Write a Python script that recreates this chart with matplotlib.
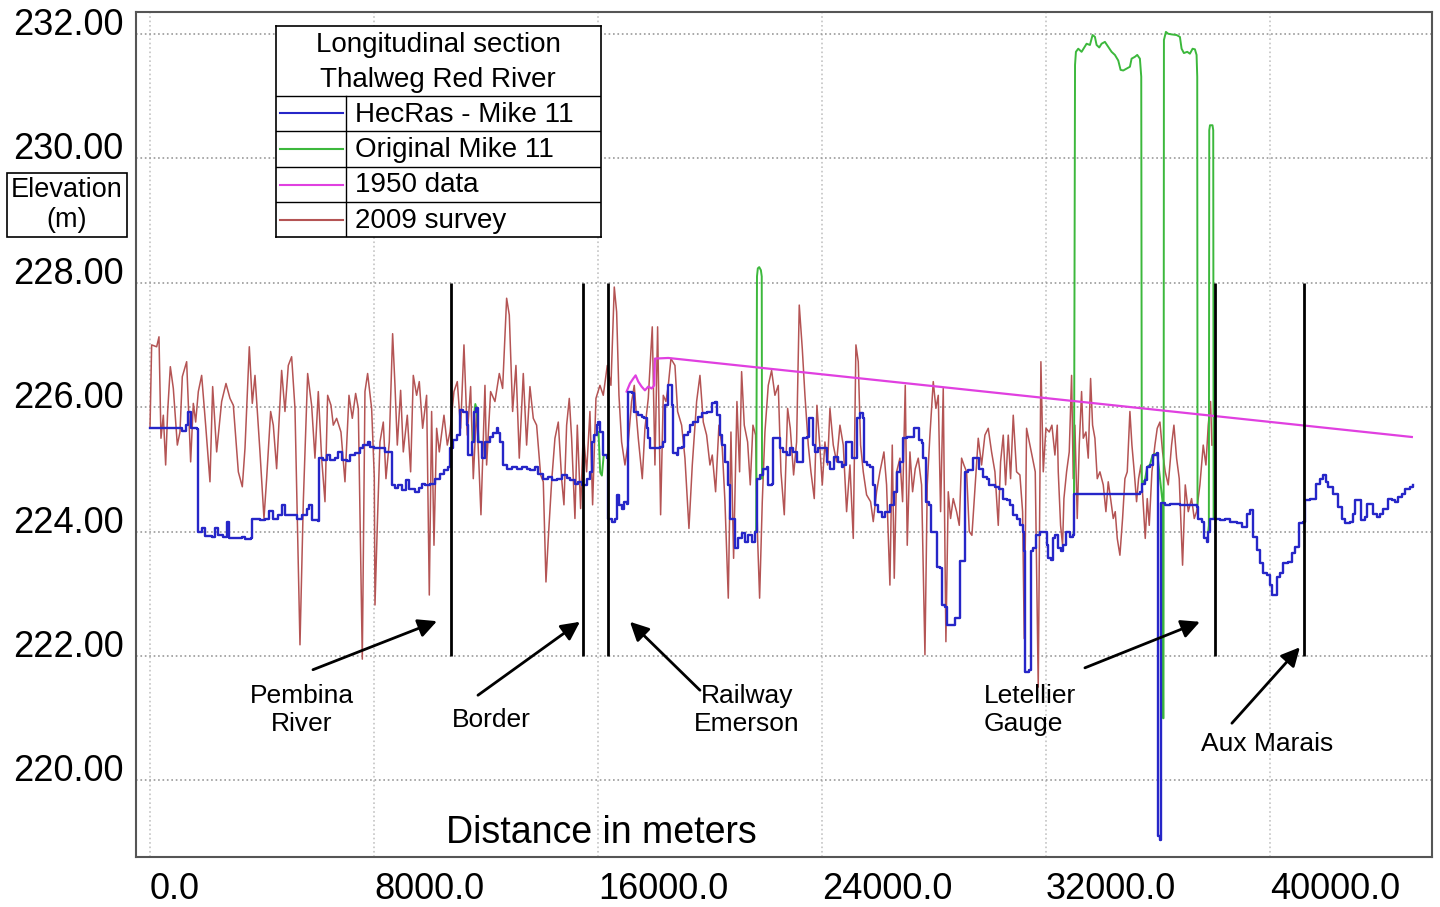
import numpy as np
import matplotlib
matplotlib.use('Agg')
import matplotlib.pyplot as plt
from matplotlib.transforms import ScaledTranslation

plt.rcParams['font.family'] = ['Liberation Sans', 'DejaVu Sans']

# 2009 survey thalweg (distance m, elevation m)
survey_dist = [
    0, 59, 238, 321, 392, 476, 559, 631, 726, 833, 976, 1071, 1154, 1309, 1452, 1547, 1631, 1726, 1845, 1988,
    2142, 2238, 2381, 2559, 2714, 2857, 2976, 3155, 3297, 3393, 3547, 3654, 3750, 3928, 4071, 4166, 4309, 4404,
    4523, 4702, 4821, 4940, 5059, 5178, 5357, 5476, 5631, 5773, 5892, 6011, 6130, 6250, 6345, 6464, 6547, 6666,
    6821, 6964, 7107, 7226, 7345, 7440, 7583, 7678, 7773, 7916, 8011,
    8036, 8119, 8214, 8333, 8428, 8547, 8666, 8750, 8833, 8952, 9047, 9190, 9309, 9404, 9523, 9618, 9738, 9880,
    9976, 10059, 10143, 10238, 10333, 10500, 10619, 10714, 10857, 10976, 11095, 11214, 11333, 11452, 11547,
    11666, 11821, 11964, 12023, 12166, 12321, 12476, 12595, 12738, 12833, 12952, 13071, 13190, 13333, 13452,
    13571, 13690, 13809, 13952, 14047, 14143, 14226, 14345, 14464, 14583, 14702, 14785, 14881, 14976, 15059,
    15178, 15262, 15381, 15476, 15595, 15714, 15809, 15928, 16071, 16190, 16333,
    16464, 16583, 16667, 16750, 16845, 16964, 17083, 17202, 17297, 17381, 17440, 17583, 17678, 17797, 17940,
    18035, 18131, 18238, 18333, 18428, 18512, 18607, 18750, 18845, 18988, 19107, 19250, 19369, 19524, 19643,
    19762, 19881, 20000, 20083, 20202, 20321, 20440, 20536, 20655, 20750, 20845, 20964, 21059, 21131, 21226,
    21345, 21440, 21536, 21631, 21702, 21774, 21869, 21964, 22083, 22202, 22321, 22440, 22536, 22655, 22774,
    22869, 22988, 23095, 23190, 23298, 23393, 23512, 23607, 23726, 23821, 23929, 24012, 24107, 24202, 24286,
    24405, 24524,
    24643, 24762, 24881, 25000, 25119, 25214, 25297, 25381, 25476, 25595, 25738, 25833, 25952, 26071, 26214,
    26309, 26428, 26512, 26583, 26667, 26786, 26881, 26976, 27047, 27143, 27238, 27333, 27440, 27559, 27679,
    27762, 27857, 27976, 28071, 28155, 28238, 28333, 28428, 28512, 28595, 28690, 28809, 28905, 28988, 29071,
    29167, 29262, 29357, 29464, 29583, 29702, 29821, 29940, 30059, 30179, 30298, 30381, 30476, 30560, 30655,
    30738, 30833, 30952, 31071, 31167, 31226, 31309, 31405, 31500, 31619, 31726, 31821, 31905, 32000, 32119,
    32214, 32321, 32405,
    32441, 32524, 32595, 32643, 32738, 32833, 32917, 32976, 33036, 33119, 33191, 33274, 33334, 33429, 33512,
    33596, 33667, 33750, 33834, 33929, 34048, 34143, 34226, 34310, 34405, 34476, 34548, 34643, 34738, 34822,
    34905, 35000, 35072, 35155, 35238, 35310, 35393, 35476, 35548, 35619, 35691, 35786, 35893, 35976, 36072,
    36167, 36262, 36369, 36488, 36572, 36667, 36762, 36881, 36977, 37084, 37203, 37298, 37381, 37500, 37619,
    37715, 37798, 37881, 37929]
survey_elev = [
    225.66, 227.0, 226.97, 227.13, 225.5, 225.87, 225.07, 225.93, 226.65, 226.3, 225.39, 225.6, 226.49, 226.73,
    225.12, 226.06, 225.76, 226.25, 226.51, 225.71, 224.8, 226.33, 225.28, 226.09, 226.38, 226.14, 226.03, 224.96,
    224.72, 225.34, 226.97, 226.06, 226.51, 225.28, 224.21, 224.85, 225.93, 225.71, 225.01, 226.59, 225.93, 226.67,
    226.81, 225.98, 222.18, 224.48, 226.54, 226.03, 225.18, 226.25, 225.18, 224.48, 226.19, 226.03, 225.71, 225.82,
    225.6, 224.8, 226.19, 225.82, 226.22, 225.98, 221.95, 226.25, 226.54, 225.98, 224.88,
    222.82, 224.1, 225.44, 225.76, 224.85, 225.44, 227.18, 226.35, 225.39, 226.27, 225.28, 225.87, 224.96, 226.51,
    226.19, 226.41, 225.66, 226.19, 222.98, 225.93, 223.78, 225.66, 225.28, 225.87, 225.39, 225.6, 226.25, 226.41,
    225.66, 227.0, 225.55, 226.33, 224.85, 225.98, 224.27, 226.35, 225.07, 226.25, 226.09, 226.54, 226.3, 227.75,
    227.48, 225.93, 226.67, 225.18, 226.54, 225.39, 226.33, 225.82, 225.71, 224.91, 224.8, 223.19, 223.89, 224.8,
    225.5, 225.76, 224.85, 224.43, 225.71, 226.14, 225.5, 224.21, 225.71, 224.37, 225.6, 224.96, 225.93, 224.43,
    226.14, 226.35, 226.19, 226.67,
    226.35, 227.93, 227.53, 226.19, 225.44, 225.07, 225.44, 226.09, 226.35, 225.82, 225.5, 224.85, 225.66, 226.14,
    227.29, 225.07, 227.29, 224.27, 226.19, 226.09, 226.35, 226.78, 226.67, 225.93, 225.71, 225.18, 224.05, 225.07,
    226.09, 226.51, 225.76, 225.55, 225.07, 225.23, 224.64, 225.71, 225.34, 224.48, 222.93, 225.6, 223.57, 226.09,
    224.96, 226.57, 225.71, 225.44, 224.75, 225.71, 225.55, 223.89, 222.93, 224.48, 225.6, 226.35, 226.59, 226.19,
    226.35, 224.96, 224.27, 225.98, 225.66, 224.91, 225.44, 227.64, 226.94, 226.19, 225.39, 224.96, 224.53, 226.03,
    225.34, 224.75, 225.44, 225.07, 225.98, 225.39, 225.12,
    225.71, 225.39, 224.32, 225.07, 223.89, 227.0, 226.73, 225.39, 224.96, 224.59, 224.48, 224.16, 224.64, 224.96,
    225.28, 224.75, 223.14, 225.39, 223.25, 224.96, 225.18, 224.48, 226.35, 223.78, 225.28, 224.64, 225.01, 225.18,
    224.75, 222.02, 224.75, 225.55, 226.41, 225.98, 226.19, 224.32, 226.3, 222.23, 224.64, 224.21, 224.53, 224.32,
    224.1, 225.18, 225.07, 224.96, 224.0, 223.94, 224.69, 225.5, 225.07, 225.55, 225.66, 225.28, 224.96, 224.1,
    225.12, 225.55, 224.75, 225.55, 224.85, 225.87, 224.96, 224.91, 224.32, 222.28, 225.66, 225.44, 225.23, 224.96,
    221.5, 226.73, 224.96, 225.66, 225.6, 225.71, 225.23, 225.71,
    224.96, 224.1, 223.78, 224.53, 224.96, 225.28, 226.51, 224.85, 225.71, 224.21, 225.39, 226.25, 225.5, 225.6,
    225.18, 226.46, 225.71, 225.5, 224.85, 224.96, 224.75, 224.32, 224.8, 224.53, 224.21, 224.32, 223.89, 223.62,
    224.21, 224.85, 224.96, 225.93, 225.39, 224.96, 224.48, 224.85, 225.07, 224.43, 223.89, 224.53, 224.1, 224.96,
    225.39, 225.66, 225.76, 225.28, 224.96, 224.75, 225.39, 225.71, 225.18, 224.85, 223.46, 224.75, 224.32, 224.53,
    224.21, 224.32, 224.75, 225.39, 225.07, 225.71, 226.09, 225.39]

# HecRas - Mike 11 thalweg
hecras_dist = [
    0, 1011, 1154, 1273, 1368, 1464, 1666, 1702, 1821, 1869, 1964, 2202, 2321, 2416, 2619, 2738, 2821, 3154, 3273,
    3392, 3606, 3630, 3928, 4107, 4250, 4404, 4583, 4702, 4821, 5059, 5237, 5416, 5595, 5678, 5773, 6011, 6035,
    6190, 6309, 6428, 6607, 6702, 6845, 7023, 7142, 7321, 7500, 7619, 7773, 7857, 8011,
    8214, 8393, 8571, 8631, 8750, 8869, 8988, 9143, 9262, 9464, 9619, 9702, 9821, 9999, 10178, 10357, 10500,
    10654, 10714, 10833, 10952, 11071, 11190, 11309, 11369, 11488, 11571, 11643, 11726, 11845, 11964, 12143,
    12262, 12381, 12440, 12500, 12595, 12738, 12917, 13095, 13274, 13452, 13571, 13750, 13869, 14047, 14226,
    14345, 14524, 14702, 14881, 15000, 15178, 15297, 15416, 15595, 15714, 15774, 15857, 15952, 16012, 16071,
    16190, 16340, 16360,
    16488, 16607, 16667, 16750, 16845, 16940, 17024, 17083, 17202, 17297, 17440, 17559, 17654, 17738, 17797,
    17857, 18035, 18214, 18333, 18393, 18488, 18571, 18631, 18690, 18809, 18869, 18988, 19083, 19202, 19286,
    19405, 19583, 19702, 19881, 20059, 20178, 20238, 20357, 20417, 20536, 20655, 20714, 20833, 20893, 21012,
    21131, 21250, 21369, 21488, 21607, 21667, 21786, 21905, 22024, 22083, 22202, 22262, 22381, 22500, 22619,
    22738, 22857, 22976, 23095, 23214, 23333, 23452, 23536, 23631, 23690, 23750, 23869, 24047, 24166, 24286,
    24440, 24583, 24702,
    24762, 24857, 24976, 25060, 25179, 25262, 25357, 25452, 25500, 25595, 25714, 25809, 25893, 26012, 26131,
    26250, 26428, 26571, 26667, 26786, 26881, 27024, 27166, 27286, 27405, 27476, 27560, 27619, 27714, 27833,
    27881, 28000, 28095, 28214, 28274, 28393, 28452, 28631, 28750, 28869, 28928, 29047, 29107, 29226, 29381,
    29524, 29619, 29738, 29881, 29976, 30179, 30333, 30476, 30595, 30714, 30833, 30976, 31071, 31167, 31226,
    31262, 31405, 31452, 31548, 31643, 31786, 31964, 32024, 32083, 32167, 32238, 32322, 32441,
    32524, 32619, 32714, 32857, 32976, 33012, 33572, 34167, 34762, 35357, 35417, 35536, 35619, 35714, 35809,
    35976, 35990, 36090, 36110, 36250, 36429, 36607, 36786, 37024, 37262, 37381, 37441, 37560, 37643, 37738,
    37798, 37857, 37976,
    38036, 38214, 38393, 38572, 38810, 38988, 39167, 39286, 39381, 39405, 39524, 39643, 39762, 39881, 40000,
    40060, 40179, 40238, 40357, 40476, 40655, 40774, 40893, 41048, 41191, 41250, 41429, 41572, 41643, 41786,
    41905, 42000, 42083, 42262, 42441, 42560, 42679, 42857, 42953, 43036, 43155, 43238, 43393, 43453, 43572,
    43667, 43810, 43929, 44048, 44226, 44345, 44464, 44584, 44703, 44822, 45000, 45095]
hecras_elev = [
    225.67, 225.66, 225.61, 225.71, 225.92, 225.66, 225.65, 224.0, 224.0, 224.06, 223.93, 223.92, 224.05, 223.94,
    223.92, 224.15, 223.9, 223.89, 223.92, 223.88, 223.89, 224.21, 224.18, 224.21, 224.33, 224.21, 224.26, 224.43,
    224.26, 224.26, 224.21, 224.26, 224.36, 224.43, 224.18, 224.17, 225.18, 225.15, 225.23, 225.15, 225.18, 225.28,
    225.15, 225.13, 225.23, 225.26, 225.35, 225.39, 225.44, 225.36, 225.34,
    225.34, 225.28, 225.28, 224.75, 224.70, 224.75, 224.67, 224.83, 224.68, 224.64, 224.70, 224.77, 224.75, 224.76,
    224.85, 224.93, 224.99, 225.04, 225.34, 225.47, 225.55, 225.95, 225.92, 225.71, 225.23, 225.44, 225.92, 225.98,
    225.44, 225.18, 225.44, 225.52, 225.58, 225.66, 225.58, 225.44, 225.07, 225.01, 225.04, 225.01, 225.04, 225.00,
    224.99, 225.03, 224.92, 224.85, 224.88, 224.83, 224.85, 224.91, 224.86, 224.83, 224.77, 224.80, 224.75, 224.85,
    224.96, 225.44, 225.55, 225.71, 225.76, 225.60, 225.23, 225.18, 224.21,
    224.16, 224.21, 224.59, 224.43, 224.37, 224.48, 224.45, 226.25, 226.22, 225.92, 225.87, 225.84, 225.82, 225.66,
    225.50, 225.34, 225.34, 225.36, 225.44, 226.03, 226.35, 226.35, 226.03, 225.26, 225.23, 225.34, 225.36, 225.55,
    225.60, 225.71, 225.76, 225.84, 225.90, 225.92, 226.06, 226.09, 225.87, 225.55, 225.39, 225.12, 224.75, 224.21,
    224.21, 223.73, 223.89, 223.97, 223.84, 223.94, 223.84, 224.00, 224.85, 224.91, 225.01, 225.04, 224.75, 224.77,
    225.50, 225.50, 225.34, 225.28, 225.23, 225.34, 225.28, 225.12, 225.12, 225.50, 225.52, 225.82, 225.82, 225.39,
    225.28, 225.34, 225.34, 225.12, 225.01, 225.20, 225.12, 225.04,
    225.07, 225.44, 225.44, 225.18, 225.18, 225.82, 225.90, 225.82, 225.12, 225.07, 225.04, 224.75, 224.43, 224.32,
    224.24, 224.32, 224.43, 224.64, 224.96, 225.12, 225.50, 225.52, 225.52, 225.66, 225.66, 225.47, 225.42, 225.18,
    224.48, 224.43, 224.00, 224.00, 223.43, 223.41, 222.82, 222.79, 222.50, 222.50, 222.61, 222.61, 223.52, 223.52,
    224.96, 224.99, 225.18, 225.18, 225.01, 224.88, 224.85, 224.75, 224.72, 224.69, 224.53, 224.51, 224.43, 224.26,
    224.21, 224.10, 224.00, 223.68, 221.75, 221.78, 223.68, 223.73, 223.94, 224.00, 224.00, 223.78, 223.57, 223.54,
    223.89, 223.94, 223.73,
    223.68, 223.78, 224.00, 223.92, 223.94, 224.61, 224.61, 224.60, 224.61, 224.63, 224.77, 224.83, 225.04, 225.07,
    225.23, 225.26, 219.10, 219.05, 224.46, 224.43, 224.45, 224.44, 224.43, 224.43, 224.43, 224.40, 224.21, 224.16,
    223.89, 223.84, 224.00, 224.21, 224.21,
    224.21, 224.18, 224.20, 224.16, 224.14, 224.08, 224.29, 224.35, 224.29, 223.92, 223.70, 223.49, 223.33, 223.30,
    223.14, 222.98, 222.98, 223.27, 223.33, 223.49, 223.51, 223.65, 223.76, 224.13, 224.16, 224.51, 224.53, 224.53,
    224.77, 224.85, 224.91, 224.80, 224.72, 224.61, 224.40, 224.21, 224.13, 224.16, 224.29, 224.51, 224.51, 224.18,
    224.24, 224.45, 224.44, 224.29, 224.24, 224.29, 224.37, 224.53, 224.51, 224.48, 224.56, 224.61, 224.69, 224.72,
    224.75]

# Original Mike 11 (only where it departs from the HecRas line)
mike_dist = [11540, 11580, 11620, 11680, 11740, np.nan,
             16020, 16080, 16140, 16200, np.nan,
             21620, 21650, 21680, 21710, 21760, 21820, 21850, 21860, 21905, np.nan,
             32976, 33000, 33040, 33072, 33155, 33274, 33453, 33572, 33667, 33750, 33810, 33905, 33988, 34107,
             34226, 34345, 34464, 34584, 34667, 34762, 34881, 35000, 35060, 35179, 35262, 35357, 35405, 35425,
             35536, 35619, 35714, 35809, 35976, 36170, 36185, 36200, 36215, 36286, 36369, 36488, 36667, 36786,
             36846, 36929, 37048, 37143, 37239, 37322, 37381, 37405, 37415, np.nan,
             37798, 37820, 37834, 37860, 37950, 37976, 37990, 38036]
mike_elev = [225.44, 225.9, 226.05, 225.95, 225.44, np.nan,
             225.6, 224.95, 224.9, 225.2, np.nan,
             224.0, 224.0, 228.1, 228.23, 228.25, 228.2, 228.1, 224.85, 225.01, np.nan,
             223.94, 224.0, 231.5, 231.71, 231.76, 231.71, 231.84, 231.82, 231.98, 231.95, 231.82, 231.78, 231.84,
             231.87, 231.79, 231.71, 231.66, 231.57, 231.42, 231.41, 231.44, 231.47, 231.6, 231.63, 231.66, 231.6,
             231.31, 224.77, 224.83, 225.04, 225.07, 225.23, 225.26, 224.46, 221.0, 221.0, 231.9, 232.03, 232.0,
             231.99, 231.98, 231.95, 231.76, 231.69, 231.71, 231.68, 231.76, 231.75, 231.66, 231.31, 224.4, np.nan,
             224.0, 224.1, 230.45, 230.53, 230.53, 230.45, 224.21, 224.21]

# 1950 data
data1950_dist = [17024, 17143, 17262, 17345, 17440, 17559, 17678, 17797, 17916, 18011, 18035, 18512, 45070]
data1950_elev = [226.25, 226.38, 226.46, 226.51, 226.41, 226.33, 226.27, 226.33, 226.30, 226.35, 226.78,
                 226.79, 225.52]

# structure markers
marker_dist = [10750, 15480, 16357, 38036, 41230]
marker_names = ['Pembina\nRiver', 'Border', 'Railway\nEmerson', 'Letellier\nGauge', 'Aux Marais']
label_pos = [(5430, 221.13), (12180, 220.97), (21320, 221.13), (29790, 221.13), (39900, 220.59)]
label_ha = ['center', 'center', 'center', 'left', 'center']
arrow_tail = [(5821, 221.78), (11714, 221.37), (19643, 221.45), (33393, 221.81), (38643, 220.92)]
arrow_head = [(10250, 222.56), (15357, 222.55), (17143, 222.55), (37500, 222.55), (41071, 222.14)]

legend_labels = ['HecRas - Mike 11', 'Original Mike 11', '1950 data', '2009 survey']

c_survey = '#b45454'
c_hecras = '#2626c8'
c_mike = '#3cb83c'
c_1950 = '#e040e0'
colors = [c_hecras, c_mike, c_1950, c_survey]

fig = plt.figure(figsize=(14.4, 9.07), dpi=100)
ax = fig.add_axes([136 / 1440, 1 - 857 / 907, 1296 / 1440, 845 / 907])

ax.plot(survey_dist, survey_elev, color=c_survey, lw=1.1, zorder=3)
ax.plot(mike_dist, mike_elev, color=c_mike, lw=1.4, zorder=4)
ax.plot(data1950_dist, data1950_elev, color=c_1950, lw=1.6, zorder=5)
ax.plot(hecras_dist, hecras_elev, color=c_hecras, lw=1.7, drawstyle='steps-post', zorder=6)
ax.vlines(marker_dist, 222, 228, color='black', lw=2, zorder=7)

for name, pos, ha, tail, head in zip(marker_names, label_pos, label_ha, arrow_tail, arrow_head):
    ax.text(pos[0], pos[1], name, ha=ha, va='center', multialignment=ha, fontsize=19, zorder=8)
    ax.annotate('', xy=head, xytext=tail,
                arrowprops=dict(arrowstyle='-|>', color='black', lw=2, mutation_scale=28,
                                shrinkA=0, shrinkB=0), zorder=8)

ax.set_xlim(-500, 45790)
ax.set_ylim(218.77, 232.35)
ax.set_xticks(np.arange(0, 40001, 8000))
ax.set_xticklabels([f'{v:.1f}' for v in np.arange(0, 40001, 8000)])
ax.set_yticks(np.arange(220, 232.1, 2))
ax.set_yticklabels([f'{v:.2f}' for v in np.arange(220, 232.1, 2)])
ax.tick_params(axis='both', length=0, labelsize=26)
ax.tick_params(axis='y', pad=9)
ax.tick_params(axis='x', pad=11)
for lab in ax.get_xticklabels():
    lab.set_horizontalalignment('left')
shift = ScaledTranslation(0, 0.125, fig.dpi_scale_trans)
for lab in ax.get_yticklabels():
    lab.set_transform(lab.get_transform() + shift)

ax.xaxis.grid(True, color='#c4c4c4', linestyle=':', lw=1.2)
ax.yaxis.grid(True, color='#9a9a9a', linestyle=':', lw=1.2)
ax.set_axisbelow(True)
for sp in ax.spines.values():
    sp.set_color('#555555')
    sp.set_linewidth(1.5)

ax.text(0.359, 0.028, 'Distance in meters', transform=ax.transAxes, ha='center', va='center', fontsize=27)

fig.text(67 / 1440, 1 - 205 / 907, 'Elevation\n(m)', ha='center', va='center', fontsize=19.5,
         bbox=dict(boxstyle='square,pad=0.15', fc='white', ec='black', lw=1.2))

# legend drawn as a small table
lax = fig.add_axes([276 / 1440, 1 - 237 / 907, 325 / 1440, 211 / 907])
lax.set_xlim(0, 325)
lax.set_ylim(211, 0)
lax.set_xticks([])
lax.set_yticks([])
for sp in lax.spines.values():
    sp.set_color('black')
    sp.set_linewidth(1.2)
lax.text(162, 19, 'Longitudinal section', ha='center', va='center', fontsize=20)
lax.text(162, 54, 'Thalweg Red River', ha='center', va='center', fontsize=20)
row_tops = [70, 105, 141, 176]
for top in row_tops:
    lax.plot([0, 325], [top, top], color='black', lw=1.0)
lax.plot([70, 70], [70, 211], color='black', lw=1.0)
row_bottoms = row_tops[1:] + [211]
for lab, col, top, bot in zip(legend_labels, colors, row_tops, row_bottoms):
    mid = (top + bot) / 2
    lax.plot([4, 67], [mid, mid], color=col, lw=1.5)
    lax.text(79, mid + 1, lab, ha='left', va='center', fontsize=20)

fig.savefig('out.png', dpi=100)
